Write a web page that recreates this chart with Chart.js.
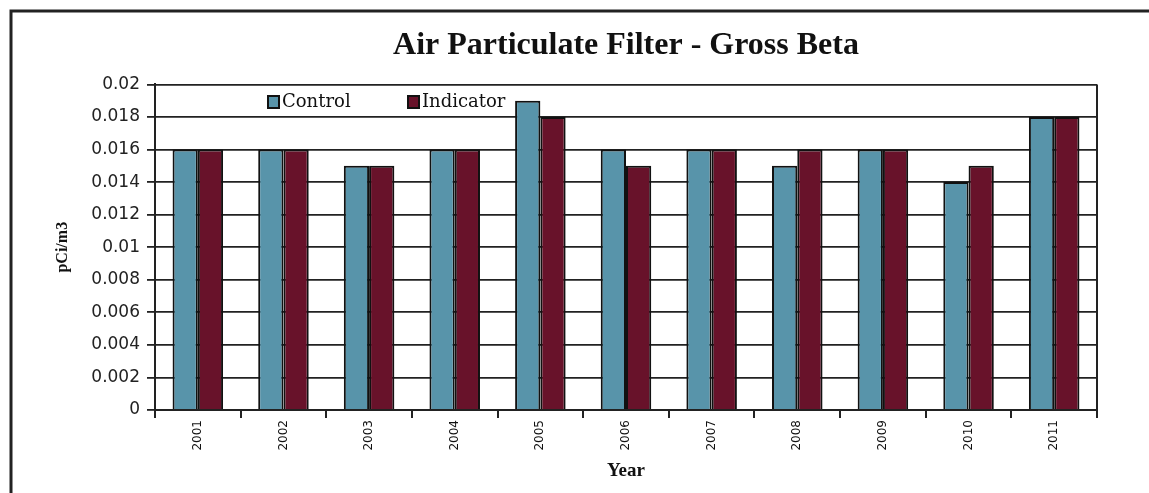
<!DOCTYPE html>
<html>
<head>
<meta charset="utf-8">
<script src="https://cdn.jsdelivr.net/npm/chart.js@4/dist/chart.umd.min.js"></script>
<style>
  html, body { margin: 0; padding: 0; background: #fff; }
  #wrap { width: 1149px; height: 493px; }
</style>
</head>
<body>
<div id="wrap"><canvas id="chart" width="1149" height="493"></canvas></div>
<script>
const years = ['2001', '2002', '2003', '2004', '2005', '2006', '2007', '2008', '2009', '2010', '2011'];
const control = [0.016, 0.016, 0.015, 0.016, 0.019, 0.016, 0.016, 0.015, 0.016, 0.014, 0.018];
const indicator = [0.016, 0.016, 0.015, 0.016, 0.018, 0.015, 0.016, 0.016, 0.016, 0.015, 0.018];
const yMax = 0.02;
const yStep = 0.002;

const controlColor = 'rgb(88,148,170)';
const indicatorColor = 'rgb(104,18,42)';

// frame round the whole picture, plot right border and the legend inside the plot
const framePlugin = {
    id: 'frame',
    beforeDraw: (chart) => {
        const { ctx } = chart;
        ctx.save();
        ctx.fillStyle = '#fff';
        ctx.fillRect(0, 0, chart.width, chart.height);
        ctx.restore();
    },
    afterDraw: (chart) => {
        const { ctx, chartArea } = chart;
        ctx.save();
        ctx.strokeStyle = '#222';
        ctx.lineWidth = 3;
        ctx.beginPath();
        ctx.moveTo(11, chart.height);
        ctx.lineTo(11, 11);
        ctx.lineTo(chart.width, 11);
        ctx.stroke();

        ctx.lineWidth = 2;
        ctx.strokeStyle = '#222';
        ctx.beginPath();
        ctx.moveTo(chartArea.right, chartArea.top);
        ctx.lineTo(chartArea.right, chartArea.bottom);
        ctx.stroke();

        // legend
        const items = chart.data.datasets;
        const xs = [268, 408];
        ctx.font = '18px "DejaVu Serif"';
        ctx.textBaseline = 'middle';
        ctx.textAlign = 'left';
        items.forEach((ds, i) => {
            const x = xs[i];
            const y = 102;
            ctx.fillStyle = ds.backgroundColor;
            ctx.fillRect(x, y - 6, 11, 12);
            ctx.lineWidth = 2;
            ctx.strokeStyle = '#111';
            ctx.strokeRect(x, y - 6, 11, 12);
            ctx.fillStyle = '#111';
            ctx.fillText(ds.label, x + 14, y);
        });
        ctx.restore();
    }
};

const ctx = document.getElementById('chart').getContext('2d');
const myChart = new Chart(ctx, {
    type: 'bar',
    data: {
        labels: years,
        datasets: [
            {
                label: 'Control',
                data: control,
                backgroundColor: controlColor,
                borderColor: '#111',
                borderWidth: 2,
                categoryPercentage: 0.59,
                barPercentage: 1.0
            },
            {
                label: 'Indicator',
                data: indicator,
                backgroundColor: indicatorColor,
                borderColor: '#111',
                borderWidth: 2,
                categoryPercentage: 0.59,
                barPercentage: 1.0
            }
        ]
    },
    options: {
        responsive: false,
        animation: false,
        layout: {
            padding: { left: 40, right: 52, top: 14, bottom: 0 }
        },
        plugins: {
            legend: { display: false },
            tooltip: { enabled: false },
            title: {
                display: true,
                fullSize: false,
                text: 'Air Particulate Filter - Gross Beta',
                color: '#111',
                font: { family: '"Liberation Serif"', size: 32, weight: 'bold' },
                padding: { top: 13, bottom: 19 }
            }
        },
        scales: {
            x: {
                grid: {
                    display: true,
                    drawOnChartArea: false,
                    drawTicks: true,
                    tickLength: 8,
                    color: '#222',
                    lineWidth: 2
                },
                border: { display: true, color: '#222', width: 2 },
                ticks: {
                    color: '#111',
                    font: { family: '"DejaVu Sans"', size: 12 },
                    minRotation: 90,
                    maxRotation: 90,
                    padding: 2
                },
                title: {
                    display: true,
                    text: 'Year',
                    color: '#111',
                    font: { family: '"Liberation Serif"', size: 19, weight: 'bold' },
                    padding: { top: 0, bottom: 11 }
                },
                afterFit: (scale) => { scale.height = 83; }
            },
            y: {
                min: 0,
                max: yMax,
                grid: {
                    color: '#222',
                    lineWidth: 1.8,
                    drawTicks: true,
                    tickLength: 8
                },
                border: { display: true, color: '#222', width: 2 },
                ticks: {
                    stepSize: yStep,
                    color: '#222',
                    font: { family: '"DejaVu Sans"', size: 17 },
                    padding: 7,
                    callback: (v) => String(+Number(v).toFixed(3))
                },
                title: {
                    display: true,
                    text: 'pCi/m3',
                    color: '#111',
                    font: { family: '"Liberation Serif"', size: 16, weight: 'bold' },
                    padding: { top: 13, bottom: 0 }
                },
                afterFit: (scale) => { scale.width = 115; }
            }
        }
    },
    plugins: [framePlugin]
});
</script>
</body>
</html>
